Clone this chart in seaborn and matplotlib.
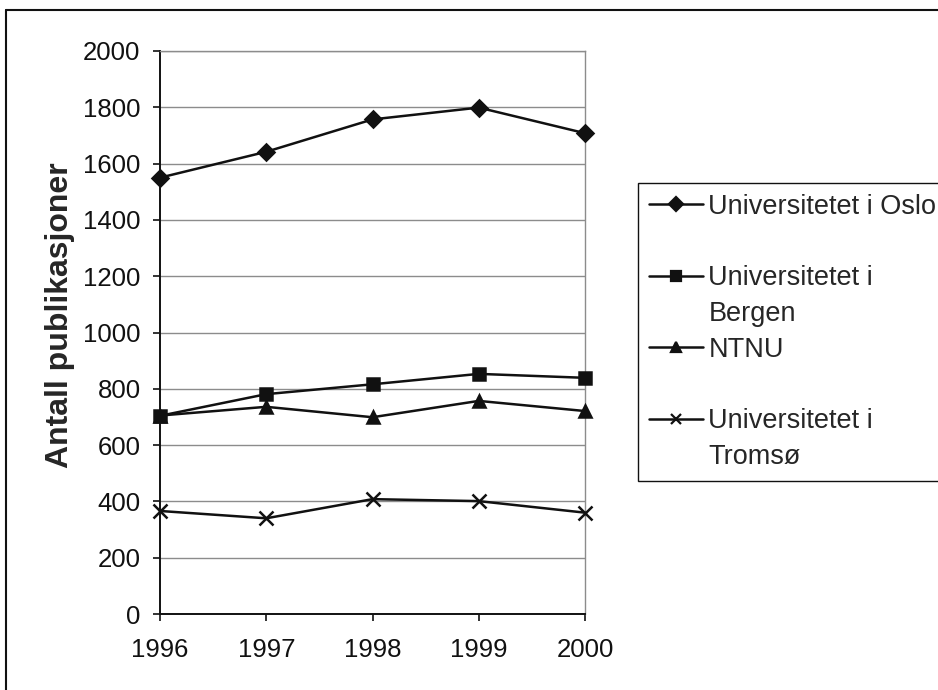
import matplotlib
matplotlib.use('Agg')
from matplotlib import pyplot as plt
from matplotlib.lines import Line2D
import seaborn as sns
import pandas as pd

# values
years = [1996, 1997, 1998, 1999, 2000]
oslo = [1550, 1642, 1757, 1799, 1708]
bergen = [704, 781, 816, 853, 839]
ntnu = [705, 736, 699, 757, 721]
tromso = [366, 340, 408, 401, 360]
series_names = ['Universitetet i Oslo', 'Universitetet i Bergen', 'NTNU', 'Universitetet i Tromsø']
marker_styles = ['D', 's', '^', 'x']
marker_sizes = [8, 8, 9, 10]
y_ticks = list(range(0, 2001, 200))
y_label = 'Antall publikasjoner'

sns.set_style('white')
plt.rcParams['font.family'] = ['Liberation Sans', 'DejaVu Sans']

data = pd.DataFrame({
	'year': years * 4,
	'count': oslo + bergen + ntnu + tromso,
	'name': [n for n in series_names for _ in years],
})

fig = plt.figure(figsize=(9.38, 6.9), dpi=100)
ax = fig.add_axes([160 / 938, 1 - 614 / 690, 425 / 938, 563 / 690])

# filled and line-art markers can't share one call, so one lineplot per series
for name, marker, size in zip(series_names, marker_styles, marker_sizes):
	sns.lineplot(data=data[data['name'] == name], x='year', y='count', color='#111111',
				 marker=marker, linewidth=1.8, markersize=size,
				 markeredgecolor='#111111', markeredgewidth=1.8, ax=ax)
for line in ax.lines:
	line.set_clip_on(False)
	line.set_zorder(5)

ax.set_xlim(1996, 2000)
ax.set_ylim(0, 2000)
ax.set_xticks(years)
ax.set_yticks(y_ticks)
ax.set_xlabel('')
ax.set_ylabel(y_label, fontsize=23, fontweight='bold')
ax.yaxis.set_label_coords(-0.2, 0.53)
ax.yaxis.grid(True, color='#8c8c8c', linewidth=1.0)
ax.set_axisbelow(True)
for side in ['left', 'bottom']:
	ax.spines[side].set_color('#111111')
	ax.spines[side].set_linewidth(1.4)
for side in ['top', 'right']:
	ax.spines[side].set_color('#8c8c8c')
	ax.spines[side].set_linewidth(1.0)
ax.tick_params(axis='both', direction='out', length=5, width=1.2, color='#111111',
			   labelsize=18.5, labelcolor='#111111', left=True, bottom=True)
ax.tick_params(axis='y', pad=9)
ax.tick_params(axis='x', pad=12)

# legend in the Excel style: marker on the first line of each label
def handle(marker):
	return Line2D([], [], color='#111111', marker=marker, markersize=7, linewidth=1.8,
				  markeredgewidth=1.6)

blank = Line2D([], [], linestyle='none')
handles = [handle('D'), blank, handle('s'), blank, handle('^'), blank, handle('x'), blank]
labels = ['Universitetet i Oslo', ' ', 'Universitetet i', 'Bergen', 'NTNU', ' ',
		  'Universitetet i', 'Tromsø']
leg = fig.legend(handles, labels, loc='upper left', bbox_to_anchor=(638 / 938, 1 - 183 / 690),
				 fontsize=19.5, frameon=True, fancybox=False, framealpha=1, edgecolor='#111111',
				 borderpad=0.4, labelspacing=0.36, handlelength=2.0, handletextpad=0.2,
				 borderaxespad=0)
leg.get_frame().set_linewidth(1.0)

# outer chart border
fig.add_artist(Line2D([6 / 938, 6 / 938], [0, 1 - 10 / 690], transform=fig.transFigure,
					  color='#111111', linewidth=1.5))
fig.add_artist(Line2D([6 / 938, 1], [1 - 10 / 690, 1 - 10 / 690], transform=fig.transFigure,
					  color='#111111', linewidth=1.5))

fig.savefig('out.png', dpi=100)
